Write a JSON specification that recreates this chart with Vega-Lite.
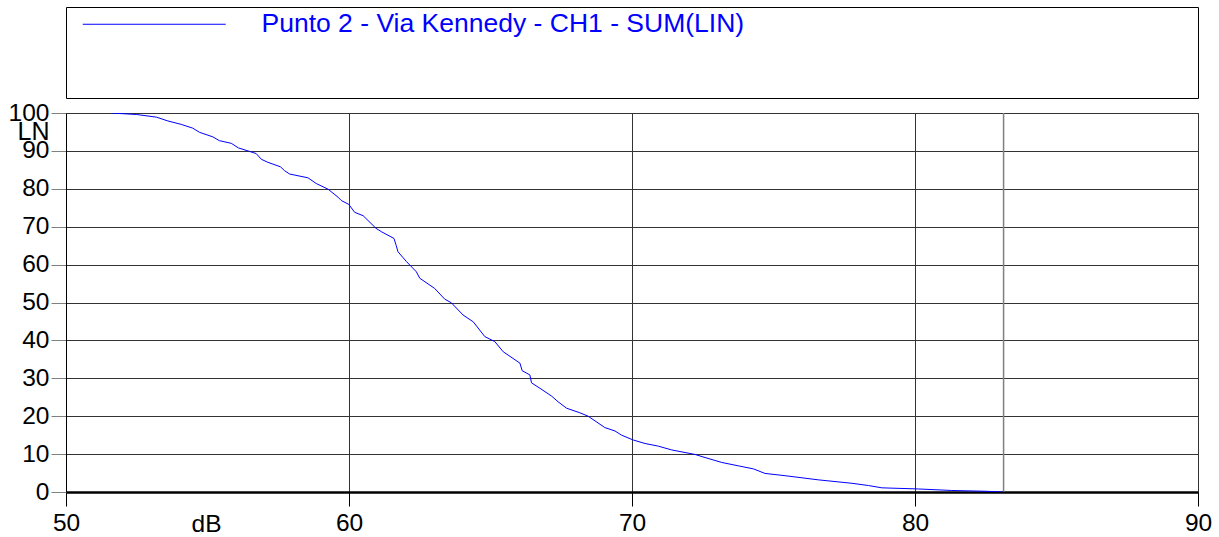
{
  "$schema": "https://vega.github.io/schema/vega-lite/v6.json",
  "background": "white",
  "padding": {"left": 7, "top": 6, "right": 5, "bottom": 3},
  "autosize": {"type": "pad"},
  "spacing": 15,
  "bounds": "flush",
  "data": {
    "values": [
      {"dB": 51.6, "LN": 100, "series": "Punto 2 - Via Kennedy - CH1 - SUM(LIN)"},
      {"dB": 52.5, "LN": 99.6, "series": "Punto 2 - Via Kennedy - CH1 - SUM(LIN)"},
      {"dB": 53.2, "LN": 98.9, "series": "Punto 2 - Via Kennedy - CH1 - SUM(LIN)"},
      {"dB": 53.6, "LN": 97.9, "series": "Punto 2 - Via Kennedy - CH1 - SUM(LIN)"},
      {"dB": 54.07, "LN": 97.0, "series": "Punto 2 - Via Kennedy - CH1 - SUM(LIN)"},
      {"dB": 54.48, "LN": 96.0, "series": "Punto 2 - Via Kennedy - CH1 - SUM(LIN)"},
      {"dB": 54.72, "LN": 94.9, "series": "Punto 2 - Via Kennedy - CH1 - SUM(LIN)"},
      {"dB": 55.19, "LN": 93.7, "series": "Punto 2 - Via Kennedy - CH1 - SUM(LIN)"},
      {"dB": 55.42, "LN": 92.7, "series": "Punto 2 - Via Kennedy - CH1 - SUM(LIN)"},
      {"dB": 55.84, "LN": 92.0, "series": "Punto 2 - Via Kennedy - CH1 - SUM(LIN)"},
      {"dB": 56.09, "LN": 90.8, "series": "Punto 2 - Via Kennedy - CH1 - SUM(LIN)"},
      {"dB": 56.72, "LN": 89.3, "series": "Punto 2 - Via Kennedy - CH1 - SUM(LIN)"},
      {"dB": 56.9, "LN": 87.8, "series": "Punto 2 - Via Kennedy - CH1 - SUM(LIN)"},
      {"dB": 57.13, "LN": 87.0, "series": "Punto 2 - Via Kennedy - CH1 - SUM(LIN)"},
      {"dB": 57.58, "LN": 85.8, "series": "Punto 2 - Via Kennedy - CH1 - SUM(LIN)"},
      {"dB": 57.72, "LN": 84.8, "series": "Punto 2 - Via Kennedy - CH1 - SUM(LIN)"},
      {"dB": 57.9, "LN": 83.9, "series": "Punto 2 - Via Kennedy - CH1 - SUM(LIN)"},
      {"dB": 58.55, "LN": 82.9, "series": "Punto 2 - Via Kennedy - CH1 - SUM(LIN)"},
      {"dB": 58.84, "LN": 81.4, "series": "Punto 2 - Via Kennedy - CH1 - SUM(LIN)"},
      {"dB": 59.26, "LN": 79.9, "series": "Punto 2 - Via Kennedy - CH1 - SUM(LIN)"},
      {"dB": 59.61, "LN": 77.8, "series": "Punto 2 - Via Kennedy - CH1 - SUM(LIN)"},
      {"dB": 59.73, "LN": 76.9, "series": "Punto 2 - Via Kennedy - CH1 - SUM(LIN)"},
      {"dB": 59.99, "LN": 75.9, "series": "Punto 2 - Via Kennedy - CH1 - SUM(LIN)"},
      {"dB": 60.2, "LN": 73.8, "series": "Punto 2 - Via Kennedy - CH1 - SUM(LIN)"},
      {"dB": 60.5, "LN": 72.9, "series": "Punto 2 - Via Kennedy - CH1 - SUM(LIN)"},
      {"dB": 60.95, "LN": 69.6, "series": "Punto 2 - Via Kennedy - CH1 - SUM(LIN)"},
      {"dB": 61.14, "LN": 68.7, "series": "Punto 2 - Via Kennedy - CH1 - SUM(LIN)"},
      {"dB": 61.59, "LN": 66.9, "series": "Punto 2 - Via Kennedy - CH1 - SUM(LIN)"},
      {"dB": 61.67, "LN": 65.0, "series": "Punto 2 - Via Kennedy - CH1 - SUM(LIN)"},
      {"dB": 61.73, "LN": 63.4, "series": "Punto 2 - Via Kennedy - CH1 - SUM(LIN)"},
      {"dB": 62.03, "LN": 60.8, "series": "Punto 2 - Via Kennedy - CH1 - SUM(LIN)"},
      {"dB": 62.38, "LN": 58.1, "series": "Punto 2 - Via Kennedy - CH1 - SUM(LIN)"},
      {"dB": 62.5, "LN": 56.4, "series": "Punto 2 - Via Kennedy - CH1 - SUM(LIN)"},
      {"dB": 63.03, "LN": 53.7, "series": "Punto 2 - Via Kennedy - CH1 - SUM(LIN)"},
      {"dB": 63.38, "LN": 50.9, "series": "Punto 2 - Via Kennedy - CH1 - SUM(LIN)"},
      {"dB": 63.62, "LN": 49.9, "series": "Punto 2 - Via Kennedy - CH1 - SUM(LIN)"},
      {"dB": 64.03, "LN": 46.7, "series": "Punto 2 - Via Kennedy - CH1 - SUM(LIN)"},
      {"dB": 64.39, "LN": 44.9, "series": "Punto 2 - Via Kennedy - CH1 - SUM(LIN)"},
      {"dB": 64.8, "LN": 41.0, "series": "Punto 2 - Via Kennedy - CH1 - SUM(LIN)"},
      {"dB": 65.15, "LN": 39.7, "series": "Punto 2 - Via Kennedy - CH1 - SUM(LIN)"},
      {"dB": 65.45, "LN": 37.0, "series": "Punto 2 - Via Kennedy - CH1 - SUM(LIN)"},
      {"dB": 66.04, "LN": 34.0, "series": "Punto 2 - Via Kennedy - CH1 - SUM(LIN)"},
      {"dB": 66.12, "LN": 32.0, "series": "Punto 2 - Via Kennedy - CH1 - SUM(LIN)"},
      {"dB": 66.39, "LN": 30.9, "series": "Punto 2 - Via Kennedy - CH1 - SUM(LIN)"},
      {"dB": 66.45, "LN": 28.8, "series": "Punto 2 - Via Kennedy - CH1 - SUM(LIN)"},
      {"dB": 66.74, "LN": 27.4, "series": "Punto 2 - Via Kennedy - CH1 - SUM(LIN)"},
      {"dB": 67.16, "LN": 25.3, "series": "Punto 2 - Via Kennedy - CH1 - SUM(LIN)"},
      {"dB": 67.39, "LN": 23.8, "series": "Punto 2 - Via Kennedy - CH1 - SUM(LIN)"},
      {"dB": 67.69, "LN": 22.1, "series": "Punto 2 - Via Kennedy - CH1 - SUM(LIN)"},
      {"dB": 68.16, "LN": 20.9, "series": "Punto 2 - Via Kennedy - CH1 - SUM(LIN)"},
      {"dB": 68.45, "LN": 20.0, "series": "Punto 2 - Via Kennedy - CH1 - SUM(LIN)"},
      {"dB": 69.04, "LN": 17.0, "series": "Punto 2 - Via Kennedy - CH1 - SUM(LIN)"},
      {"dB": 69.4, "LN": 16.1, "series": "Punto 2 - Via Kennedy - CH1 - SUM(LIN)"},
      {"dB": 69.63, "LN": 15.0, "series": "Punto 2 - Via Kennedy - CH1 - SUM(LIN)"},
      {"dB": 70.05, "LN": 13.7, "series": "Punto 2 - Via Kennedy - CH1 - SUM(LIN)"},
      {"dB": 70.46, "LN": 12.8, "series": "Punto 2 - Via Kennedy - CH1 - SUM(LIN)"},
      {"dB": 70.93, "LN": 12.1, "series": "Punto 2 - Via Kennedy - CH1 - SUM(LIN)"},
      {"dB": 71.4, "LN": 11.1, "series": "Punto 2 - Via Kennedy - CH1 - SUM(LIN)"},
      {"dB": 72.23, "LN": 9.9, "series": "Punto 2 - Via Kennedy - CH1 - SUM(LIN)"},
      {"dB": 72.58, "LN": 9.1, "series": "Punto 2 - Via Kennedy - CH1 - SUM(LIN)"},
      {"dB": 73.17, "LN": 7.8, "series": "Punto 2 - Via Kennedy - CH1 - SUM(LIN)"},
      {"dB": 73.76, "LN": 6.9, "series": "Punto 2 - Via Kennedy - CH1 - SUM(LIN)"},
      {"dB": 74.29, "LN": 6.1, "series": "Punto 2 - Via Kennedy - CH1 - SUM(LIN)"},
      {"dB": 74.7, "LN": 4.9, "series": "Punto 2 - Via Kennedy - CH1 - SUM(LIN)"},
      {"dB": 75.41, "LN": 4.3, "series": "Punto 2 - Via Kennedy - CH1 - SUM(LIN)"},
      {"dB": 76.59, "LN": 3.2, "series": "Punto 2 - Via Kennedy - CH1 - SUM(LIN)"},
      {"dB": 77.77, "LN": 2.3, "series": "Punto 2 - Via Kennedy - CH1 - SUM(LIN)"},
      {"dB": 78.36, "LN": 1.7, "series": "Punto 2 - Via Kennedy - CH1 - SUM(LIN)"},
      {"dB": 78.83, "LN": 1.1, "series": "Punto 2 - Via Kennedy - CH1 - SUM(LIN)"},
      {"dB": 80.12, "LN": 0.8, "series": "Punto 2 - Via Kennedy - CH1 - SUM(LIN)"},
      {"dB": 81.3, "LN": 0.4, "series": "Punto 2 - Via Kennedy - CH1 - SUM(LIN)"},
      {"dB": 82.48, "LN": 0.2, "series": "Punto 2 - Via Kennedy - CH1 - SUM(LIN)"},
      {"dB": 83.13, "LN": 0.0, "series": "Punto 2 - Via Kennedy - CH1 - SUM(LIN)"}
    ]
  },
  "vconcat": [
    {
      "width": 1132,
      "height": 91,
      "mark": {"type": "point", "opacity": 0},
      "encoding": {
        "x": {"field": "dB", "type": "quantitative", "axis": null, "scale": {"domain": [40, 100]}},
        "y": {"field": "LN", "type": "quantitative", "axis": null, "scale": {"domain": [-30, 130]}}
      }
    },
    {
      "width": 1132,
      "height": 379,
      "layer": [
        {
          "mark": {"type": "rule", "color": "#808080", "strokeWidth": 1.5},
          "encoding": {
            "x": {"aggregate": "max", "field": "dB", "type": "quantitative"}
          }
        },
        {
          "mark": {"type": "line", "strokeWidth": 1, "clip": true},
          "encoding": {
            "x": {
              "field": "dB",
              "type": "quantitative",
              "scale": {"domain": [50, 90], "nice": false, "zero": false},
              "axis": {
                "values": [50, 60, 70, 80, 90],
                "title": "dB",
                "titleX": 140,
                "titleY": 39,
                "titleAlign": "center",
                "titleBaseline": "alphabetic",
                "tickSize": 14,
                "labelPadding": 5,
                "domainWidth": 2.5,
                "domainColor": "black",
                "tickColor": "black",
                "labelFlush": false
              }
            },
            "y": {
              "field": "LN",
              "type": "quantitative",
              "scale": {"domain": [0, 100], "nice": false},
              "axis": {
                "values": [0, 10, 20, 30, 40, 50, 60, 70, 80, 90, 100],
                "title": "LN",
                "titleAngle": 0,
                "titleX": -17,
                "titleY": 26,
                "titleAlign": "right",
                "titleBaseline": "alphabetic",
                "titleFontSize": 25,
                "tickSize": 15,
                "labelPadding": 2,
                "tickColor": "#808080",
                "domainColor": "black"
              }
            },
            "color": {
              "field": "series",
              "type": "nominal",
              "scale": {"range": ["#0000ff"]},
              "legend": {
                "orient": "none",
                "legendX": 75,
                "legendY": 4,
                "title": null,
                "symbolType": "M-10,0H10",
                "symbolSize": 204.5,
                "symbolStrokeWidth": 1,
                "symbolStrokeColor": "#0000ff",
                "symbolFillColor": "transparent",
                "labelFontSize": 26.5,
                "labelColor": "#0000ff",
                "labelOffset": 94,
                "labelLimit": 0,
                "padding": 0
              }
            }
          }
        }
      ]
    }
  ],
  "config": {
    "font": "Liberation Sans",
    "view": {"stroke": "black", "strokeWidth": 1},
    "axis": {
      "grid": true,
      "gridColor": "#333333",
      "gridWidth": 1,
      "gridOpacity": 1,
      "labelFont": "Liberation Sans",
      "labelFontSize": 24.5,
      "labelColor": "black",
      "titleFont": "Liberation Sans",
      "titleFontSize": 24.5,
      "titleFontWeight": "normal",
      "titleColor": "black",
      "ticks": true
    },
    "legend": {"labelFont": "Liberation Sans"}
  }
}
